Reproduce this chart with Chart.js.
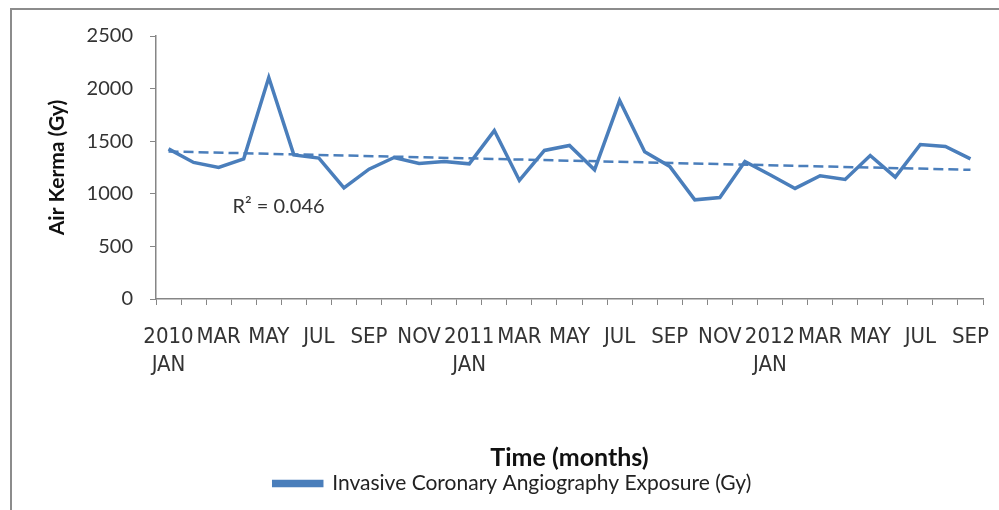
<!DOCTYPE html>
<html>
<head>
<meta charset="utf-8">
<script src="https://cdn.jsdelivr.net/npm/chart.js@4.4.1/dist/chart.umd.min.js"></script>
<style>
  html, body { margin: 0; padding: 0; background: #fff; }
  #wrap { position: relative; width: 999px; height: 510px; }
  #frame {
    position: absolute; left: 10px; top: 8px; right: 0; bottom: 0;
    border-left: 2px solid #8c8c8c; border-top: 2px solid #8c8c8c;
    pointer-events: none;
  }
</style>
</head>
<body>
<div id="wrap">
  <canvas id="chart" width="999" height="510"></canvas>
  <div id="frame"></div>
</div>
<script>
// ----- data -----
const months = [
  '2010 JAN', '2010 FEB', '2010 MAR', '2010 APR', '2010 MAY', '2010 JUN',
  '2010 JUL', '2010 AUG', '2010 SEP', '2010 OCT', '2010 NOV', '2010 DEC',
  '2011 JAN', '2011 FEB', '2011 MAR', '2011 APR', '2011 MAY', '2011 JUN',
  '2011 JUL', '2011 AUG', '2011 SEP', '2011 OCT', '2011 NOV', '2011 DEC',
  '2012 JAN', '2012 FEB', '2012 MAR', '2012 APR', '2012 MAY', '2012 JUN',
  '2012 JUL', '2012 AUG', '2012 SEP',
]

const exposure = [
  1427, 1298, 1250, 1332, 2105, 1370, 1339, 1057, 1234, 1345, 1288, 1307,
  1285, 1601, 1127, 1412, 1459, 1228, 1886, 1399, 1260, 943, 965, 1307,
  1181, 1051, 1171, 1136, 1364, 1158, 1469, 1450, 1332,
]

// shown every other month, year on top for january
const tickLabels = [
  ['2010', 'JAN'], '', 'MAR', '', 'MAY', '', 'JUL', '', 'SEP', '', 'NOV', '',
  ['2011', 'JAN'], '', 'MAR', '', 'MAY', '', 'JUL', '', 'SEP', '', 'NOV', '',
  ['2012', 'JAN'], '', 'MAR', '', 'MAY', '', 'JUL', '', 'SEP',
]

const yTicks = [0, 500, 1000, 1500, 2000, 2500]

// linear trend (start / end)
const trendEnds = [1402, 1228]
const rSquaredText = 'R\u00b2 = 0.046'

// ----- styles -----
const BLUE = '#4a7ebb'
const AXIS = '#868686'
const TEXT = '#333'
const SANS = "Lato, 'Open Sans', sans-serif"
const NARROW = "'Liberation Sans Narrow', 'DejaVu Sans Condensed', Lato, sans-serif"

const trendData = [
  { x: months[0], y: trendEnds[0] },
  { x: months[months.length - 1], y: trendEnds[1] },
]

// R² note, anchored in data units
const rSquaredNote = {
  id: 'rSquaredNote',
  afterDatasetsDraw(chart) {
    const { ctx, scales: { x, y } } = chart
    ctx.save()
    ctx.font = `20px ${SANS}`
    ctx.fillStyle = TEXT
    ctx.textAlign = 'left'
    ctx.textBaseline = 'middle'
    ctx.fillText(rSquaredText, x.getPixelForValue(2.55), y.getPixelForValue(880))
    ctx.restore()
  },
}

new Chart(document.getElementById('chart'), {
  type: 'line',
  data: {
    labels: months,
    datasets: [
      {
        label: 'Invasive Coronary Angiography Exposure (Gy)',
        data: exposure,
        borderColor: BLUE,
        backgroundColor: BLUE,
        borderWidth: 3.5,
        pointRadius: 0,
        tension: 0,
      },
      {
        label: 'trend',
        data: trendData,
        borderColor: BLUE,
        borderWidth: 2.5,
        borderDash: [10, 5],
        pointRadius: 0,
      },
    ],
  },
  options: {
    responsive: false,
    animation: false,
    layout: { padding: { left: 42, right: 16, top: 36, bottom: 6 } },
    plugins: {
      tooltip: { enabled: false },
      legend: {
        position: 'bottom',
        labels: {
          filter: (item) => item.datasetIndex === 0,
          boxWidth: 48,
          boxHeight: 4,
          padding: 0,
          color: '#222',
          font: { family: SANS, size: 21 },
        },
      },
    },
    scales: {
      x: {
        offset: true,
        grid: { offset: true, drawOnChartArea: false, tickLength: 6, color: AXIS },
        border: { color: AXIS, width: 1.5 },
        ticks: {
          autoSkip: false,
          maxRotation: 0,
          padding: 18,
          color: TEXT,
          font: { family: NARROW, size: 22, lineHeight: '28px' },
          callback: (v, i) => tickLabels[i],
        },
        title: {
          display: true,
          text: 'Time (months)',
          color: '#111',
          padding: 0,
          font: { family: SANS, size: 25, weight: 'bold' },
        },
        afterFit: (s) => {
          s.height = 174
          s.paddingLeft = 0
          s.paddingRight = 0
        },
      },
      y: {
        min: 0,
        max: 2500,
        afterBuildTicks: (s) => { s.ticks = yTicks.map((v) => ({ value: v })) },
        grid: { drawOnChartArea: false, tickLength: 6, color: AXIS },
        border: { color: AXIS, width: 1.5 },
        ticks: {
          padding: 17,
          color: TEXT,
          font: { family: SANS, size: 20 },
          callback: (v) => String(v),
        },
        title: {
          display: true,
          text: 'Air Kerma (Gy)',
          color: '#111',
          padding: { top: 3, bottom: 3 },
          font: { family: SANS, size: 21, weight: 'bold' },
        },
        afterFit: (s) => { s.width = 114 },
      },
    },
  },
  plugins: [rSquaredNote],
})
</script>
</body>
</html>
